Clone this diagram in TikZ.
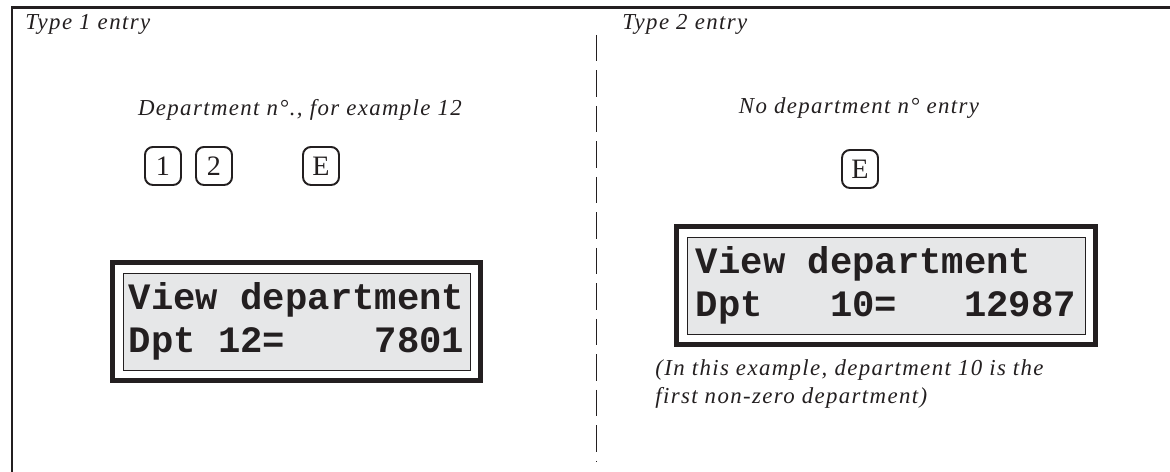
\documentclass[tikz,border=0pt]{standalone}
\usepackage{fontspec}
\setmainfont{Liberation Serif}
\newfontfamily\notefamily[LetterSpace=6]{Liberation Serif}
\newfontfamily\lcdfamily{Liberation Mono}
\usetikzlibrary{fit}
\definecolor{ink}{HTML}{231F20}
\definecolor{lcdgray}{HTML}{E6E7E8}
\tikzset{
  note/.style={font=\notefamily\itshape\fontsize{13}{16}\selectfont, inner sep=0pt},
  keycap/.style={draw=ink, line width=1.1pt, rounded corners=4.5pt, minimum width=0.72cm,
    minimum height=0.76cm, inner sep=0pt, font=\fontsize{16}{16}\selectfont},
  lcd/.style={draw=ink, line width=0.5pt, fill=lcdgray, minimum height=1.94cm, align=left,
    inner sep=0pt, font=\lcdfamily\bfseries\fontsize{21.2}{24.5}\selectfont},
  lcdframe/.style={draw=ink, line width=2.85pt, inner sep=5.7pt},
}
\begin{document}
\begin{tikzpicture}[ink]
\useasboundingbox (0,0) rectangle (23.4,9.44);
\draw [line width=1.7pt] (0.24,0) -- (0.24,9.28) -- (23.4,9.28);
\draw [line width=1.1pt, dash pattern=on 0.53cm off 0.18cm] (11.93,8.74) -- (11.93,0.2);
\node [note, anchor=west] (type1) at (0.5,8.96) {Type 1 entry};
\node [note] (dept1) at (6.0,7.24) {Department n°., for example 12};
\node [keycap] (k1) at (3.26,6.12) {1};
\node [keycap] (k2) at (4.28,6.12) {2};
\node [keycap] (e1) at (6.42,6.12) {E};
\node [lcd, minimum width=6.94cm] (lcd1) at (5.93,3.01) {View department\\Dpt 12=~~~~7801};
\node [lcdframe, fit=(lcd1)] (frame1) {};
\node [note, anchor=west] (type2) at (12.44,8.96) {Type 2 entry};
\node [note] (dept2) at (17.18,7.28) {No department n° entry};
\node [keycap] (e2) at (17.2,6.06) {E};
\node [lcd, minimum width=7.96cm] (lcd2) at (17.72,3.73) {View department\\Dpt~~~10=~~~12987};
\node [lcdframe, fit=(lcd2)] (frame2) {};
\node [note, align=left, anchor=north west] (remark) at (13.1,2.25)
  {(In this example, department 10 is the\\first non-zero department)};
\end{tikzpicture}
\end{document}
